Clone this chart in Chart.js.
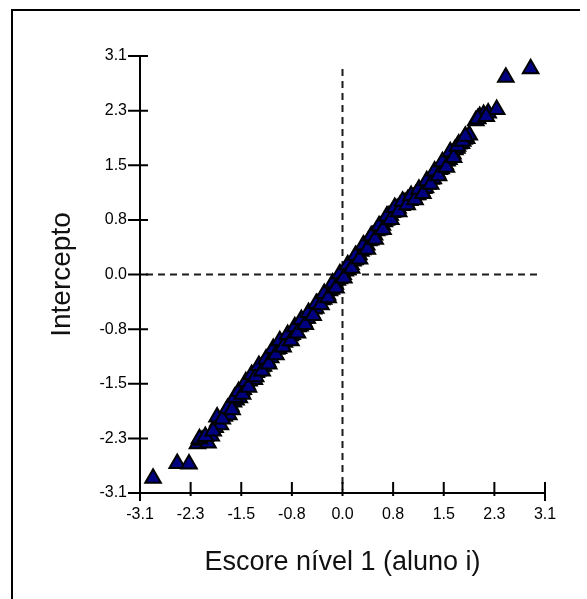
<!DOCTYPE HTML><html>
<head>
  <title>Escore nivel 1 x Intercepto</title>
  <meta name="viewport" content="width=device-width, initial-scale=1">
  <style>
  html {
    font-family: Arial, "Liberation Sans", Helvetica, sans-serif;
  }
  body {
    margin: 0;
    background: #fff;
  }
  div.container {
    position: relative;
    width: 587px;
    height: 599px;
    overflow: hidden;
  }
  /* moldura: so topo e lado esquerdo */
  div.frame {
    position: absolute;
    left: 11px;
    top: 9px;
    width: 567px;
    height: 600px;
    border-top: 2px solid #000;
    border-left: 2px solid #000;
  }
  canvas {
    position: absolute;
    left: 0;
    top: 0;
  }
  </style>
  <script src="https://cdn.jsdelivr.net/npm/chart.js"></script>
<script>
  // escore nivel 1 (aluno i)
  var scoreX = [
    -2.90, -2.53, -2.35, -2.22, -2.15, -2.06, -2.01, -1.95, -1.91, -1.87,
    -1.81, -1.78, -1.74, -1.71, -1.67, -1.63, -1.61, -1.58, -1.55, -1.52,
    -1.50, -1.46, -1.43, -1.41, -1.37, -1.35, -1.32, -1.30, -1.27, -1.24,
    -1.21, -1.19, -1.15, -1.12, -1.10, -1.07, -1.04, -1.01, -0.98, -0.95,
    -0.93, -0.89, -0.86, -0.83, -0.80, -0.77, -0.74, -0.72, -0.68, -0.65,
    -0.62, -0.59, -0.56, -0.54, -0.50, -0.47, -0.44, -0.41, -0.38, -0.35,
    -0.32, -0.29, -0.27, -0.23, -0.20, -0.17, -0.14, -0.11, -0.08, -0.05,
    -0.02, 0.01, 0.04, 0.07, 0.10, 0.13, 0.16, 0.19, 0.22, 0.25,
    0.28, 0.31, 0.34, 0.37, 0.40, 0.43, 0.46, 0.49, 0.52, 0.55,
    0.58, 0.61, 0.64, 0.67, 0.70, 0.73, 0.76, 0.79, 0.82, 0.85,
    0.88, 0.91, 0.94, 0.97, 1.00, 1.03, 1.06, 1.09, 1.12, 1.15,
    1.18, 1.21, 1.24, 1.27, 1.30, 1.33, 1.36, 1.39, 1.42, 1.45,
    1.48, 1.51, 1.54, 1.57, 1.60, 1.63, 1.66, 1.69, 1.72, 1.75,
    1.78, 1.82, 1.86, 1.90, 1.94, 2.04, 2.10, 2.16, 2.23, 2.36,
    2.50, 2.88,
    -2.19, -2.10, -1.98, -1.92, -1.84, -1.76, -1.69, -1.65, -1.59, -1.53,
    -1.48, -1.44, -1.39, -1.33, -1.28, -1.23, -1.17, -1.13, -1.06, -1.02,
    -0.96, -0.91, -0.84, -0.79, -0.73, -0.69, -0.63, -0.57, -0.52, -0.45,
    -0.40, -0.33, -0.28, -0.22, -0.15, -0.10, -0.04, 0.02, 0.08, 0.14,
    0.20, 0.26, 0.32, 0.38, 0.44, 0.50, 0.56, 0.62, 0.68, 0.74,
    0.80, 0.86, 0.92, 0.99, 1.05, 1.11, 1.17, 1.23, 1.29, 1.35,
    1.41, 1.47, 1.53, 1.59, 1.65, 1.70, 1.76, 1.84, 1.88, 2.07,
    2.20
  ];
  // intercepto estimado
  var interceptY = [
    -2.89, -2.68, -2.69, -2.40, -2.35, -2.39, -2.29, -2.17, -2.09, -2.13,
    -2.01, -1.94, -1.99, -1.87, -1.81, -1.78, -1.71, -1.75, -1.65, -1.63,
    -1.58, -1.56, -1.51, -1.49, -1.46, -1.49, -1.39, -1.37, -1.35, -1.31,
    -1.30, -1.25, -1.23, -1.17, -1.18, -1.11, -1.12, -1.06, -1.05, -1.00,
    -0.99, -0.96, -0.92, -0.91, -0.87, -0.85, -0.79, -0.80, -0.74, -0.73,
    -0.69, -0.67, -0.62, -0.62, -0.57, -0.55, -0.49, -0.48, -0.42, -0.42,
    -0.36, -0.35, -0.30, -0.29, -0.23, -0.21, -0.16, -0.14, -0.08, -0.06,
    -0.02, 0.00, 0.05, 0.07, 0.11, 0.14, 0.19, 0.21, 0.26, 0.28,
    0.33, 0.35, 0.40, 0.42, 0.48, 0.49, 0.55, 0.56, 0.62, 0.63,
    0.68, 0.70, 0.75, 0.77, 0.83, 0.84, 0.88, 0.89, 0.93, 0.94,
    0.98, 0.98, 1.02, 1.02, 1.06, 1.05, 1.09, 1.09, 1.13, 1.13,
    1.18, 1.18, 1.22, 1.23, 1.28, 1.29, 1.35, 1.36, 1.42, 1.44,
    1.49, 1.50, 1.55, 1.56, 1.61, 1.63, 1.69, 1.71, 1.77, 1.79,
    1.85, 1.86, 1.92, 1.93, 1.98, 2.18, 2.24, 2.27, 2.29, 2.34,
    2.80, 2.92,
    -2.33, -2.30, -2.22, -2.02, -2.05, -1.90, -1.92, -1.74, -1.66, -1.70,
    -1.52, -1.60, -1.42, -1.45, -1.29, -1.37, -1.20, -1.27, -1.05, -1.14,
    -0.94, -1.03, -0.85, -0.94, -0.74, -0.83, -0.64, -0.71, -0.54, -0.58,
    -0.41, -0.43, -0.27, -0.33, -0.12, -0.19, 0.01, -0.05, 0.14, 0.09,
    0.27, 0.22, 0.42, 0.36, 0.55, 0.50, 0.69, 0.64, 0.83, 0.78,
    0.95, 0.89, 1.04, 0.99, 1.12, 1.06, 1.21, 1.15, 1.33, 1.28,
    1.47, 1.40, 1.60, 1.52, 1.74, 1.66, 1.82, 1.89, 1.96, 2.21,
    2.24
  ];

  // marcas dos eixos (mesmas nos dois)
  var tickValues = [-3.1, -2.325, -1.55, -0.775, 0, 0.775, 1.55, 2.325, 3.1];
  var tickLabels = ['-3.1', '-2.3', '-1.5', '-0.8', '0.0', '0.8', '1.5', '2.3', '3.1'];

  var xTitle = 'Escore nível 1 (aluno i)';
  var yTitle = 'Intercepto';

  var points = [];
  for (var i = 0; i < scoreX.length; i++) {
    points.push({x: scoreX[i], y: interceptY[i]});
  }

  function setTicks(scale) {
    scale.ticks = tickValues.map(function (v) { return {value: v}; });
  }

  function tickLabel(value, index) {
    return tickLabels[index];
  }

  // linhas tracejadas em zero + tracinhos dos eixos
  var axisMarks = {
    id: 'axisMarks',
    beforeDatasetsDraw: function (chart) {
      var ctx = chart.ctx;
      var a = chart.chartArea;
      var x0 = chart.scales.x.getPixelForValue(0);
      var y0 = chart.scales.y.getPixelForValue(0);
      ctx.save();
      ctx.strokeStyle = '#1a1a1a';
      ctx.lineWidth = 2;
      ctx.setLineDash([7, 5]);
      ctx.beginPath();
      ctx.moveTo(a.left + 6, y0);
      ctx.lineTo(a.right - 5, y0);
      ctx.moveTo(x0, a.top + 13);
      ctx.lineTo(x0, a.bottom - 3);
      ctx.stroke();
      ctx.restore();
    },
    afterDraw: function (chart) {
      var ctx = chart.ctx;
      var a = chart.chartArea;
      ctx.save();
      ctx.strokeStyle = '#000';
      ctx.lineWidth = 2;
      ctx.beginPath();
      tickValues.forEach(function (v, i) {
        var py = chart.scales.y.getPixelForValue(v);
        ctx.moveTo(a.left - 12, py);
        ctx.lineTo(a.left + 8, py);
        var px = chart.scales.x.getPixelForValue(v);
        var down = (i === 0 || i === tickValues.length - 1) ? 8 : 3;
        ctx.moveTo(px, a.bottom - 11);
        ctx.lineTo(px, a.bottom + down);
      });
      ctx.stroke();
      ctx.restore();
    }
  };

  var tickFont = {family: 'Arial, "Liberation Sans", sans-serif', size: 16};

  var config = {
    type: 'scatter',
    data: {
      datasets: [{
        label: yTitle,
        data: points,
        pointStyle: 'triangle',
        pointRadius: 9,
        pointHoverRadius: 9,
        backgroundColor: '#000080',
        borderColor: '#000',
        borderWidth: 2
      }]
    },
    options: {
      responsive: false,
      animation: false,
      devicePixelRatio: 1,
      layout: {
        padding: {left: 0, top: 56, right: 42, bottom: 0}
      },
      plugins: {
        legend: {display: false},
        tooltip: {enabled: false}
      },
      scales: {
        x: {
          type: 'linear',
          position: 'bottom',
          min: -3.1,
          max: 3.1,
          afterBuildTicks: setTicks,
          afterFit: function (s) { s.height = 106; s.paddingLeft = 0; s.paddingRight = 0; },
          grid: {display: false, drawTicks: false},
          border: {display: true, color: '#000', width: 2},
          ticks: {
            callback: tickLabel,
            autoSkip: false,
            maxRotation: 0,
            padding: 12,
            color: '#000',
            font: tickFont
          },
          title: {
            display: true,
            text: xTitle,
            color: '#111',
            padding: {top: 0, bottom: 20},
            font: {family: 'Arial, "Liberation Sans", sans-serif', size: 27}
          }
        },
        y: {
          type: 'linear',
          position: 'left',
          min: -3.1,
          max: 3.1,
          afterBuildTicks: setTicks,
          afterFit: function (s) { s.width = 140; s.paddingTop = 0; s.paddingBottom = 0; },
          grid: {display: false, drawTicks: false},
          border: {display: true, color: '#000', width: 2},
          ticks: {
            callback: tickLabel,
            autoSkip: false,
            padding: 13,
            color: '#000',
            font: tickFont
          },
          title: {
            display: true,
            text: yTitle,
            color: '#111',
            padding: {top: 45, bottom: 0},
            font: {family: 'Arial, "Liberation Sans", sans-serif', size: 28}
          }
        }
      }
    },
    plugins: [axisMarks]
  };

  var myChart;
  window.addEventListener('load', onLoad);

  function onLoad(event) {
    myChart = new Chart(document.getElementById('score-chart'), config);
  }
</script>
</head>
<body>
  <div class="container">
    <div class="frame"></div>
    <canvas id="score-chart" width="587" height="599"></canvas>
  </div>
</body>
</html>
